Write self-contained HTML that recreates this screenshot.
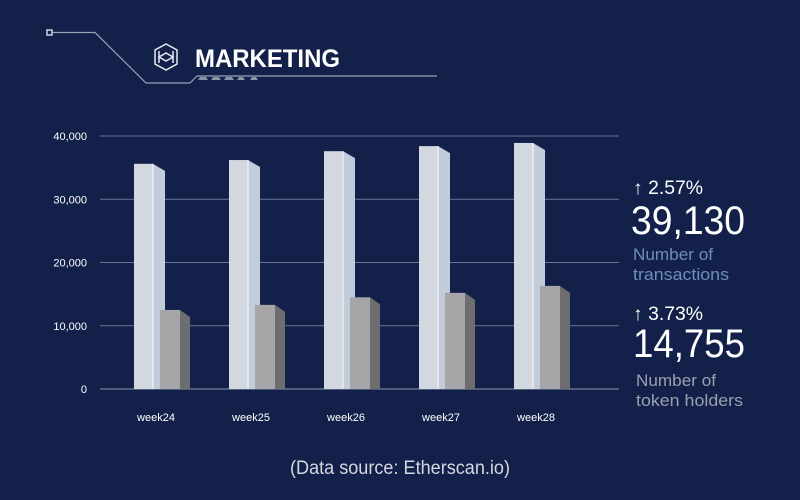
<!DOCTYPE html>
<html><head><meta charset="utf-8"><style>
html,body{margin:0;padding:0;background:#13214a;}
body{width:800px;height:495px;overflow:hidden;font-family:"Liberation Sans",sans-serif;}
</style></head><body>
<svg width="800" height="495" xmlns="http://www.w3.org/2000/svg">
<rect width="800" height="495" fill="#13214a"/>
<g fill="none" stroke="#9aa3b8" stroke-width="1.2">
<rect x="47" y="30" width="5" height="5" stroke="#d0d4dc" stroke-width="1.5"/>
<path d="M53 32.5 H95 L146 83 H190 L197 76 H437"/>
</g>
<g fill="#8a93a8">
<polygon points="198,80 208,80 206,77 200,77"/><polygon points="211,80 221,80 219,77 213,77"/><polygon points="224,80 234,80 232,77 226,77"/><polygon points="237,80 245,80 243,77 239,77"/><polygon points="250,80 258,80 256,77 252,77"/>
</g>
<g fill="none" stroke="#e6e9f0" stroke-width="1.5">
<polygon points="166,44 177,50 177,64 166,70 155,64 155,50"/>
<path d="M159 51 V63 M173 51 V63 M159 57 L166 53 L173 57 L166 61 Z"/>
</g>
<text x="195" y="67" font-size="25" font-weight="bold" fill="#ffffff" textLength="145" lengthAdjust="spacingAndGlyphs">MARKETING</text>
<g id="grid"></g>
<g id="bars"></g>
<g>
<text x="633" y="194" font-size="19" fill="#ffffff" textLength="70" lengthAdjust="spacingAndGlyphs">↑ 2.57%</text>
<text x="631" y="234" font-size="40" fill="#ffffff" textLength="114" lengthAdjust="spacingAndGlyphs">39,130</text>
<text x="633" y="260" font-size="17" fill="#6f8dbb" textLength="80" lengthAdjust="spacingAndGlyphs">Number of</text>
<text x="633" y="280" font-size="17" fill="#6f8dbb" textLength="96" lengthAdjust="spacingAndGlyphs">transactions</text>
</g>
<g>
<text x="633" y="320" font-size="19" fill="#ffffff" textLength="70" lengthAdjust="spacingAndGlyphs">↑ 3.73%</text>
<text x="633" y="357" font-size="40" fill="#ffffff" textLength="112" lengthAdjust="spacingAndGlyphs">14,755</text>
<text x="636" y="386" font-size="17" fill="#9aa0ad" textLength="80" lengthAdjust="spacingAndGlyphs">Number of</text>
<text x="636" y="406" font-size="17" fill="#9aa0ad" textLength="107" lengthAdjust="spacingAndGlyphs">token holders</text>
</g>
<text x="400" y="474" font-size="19" fill="#d4d7de" text-anchor="middle" textLength="220" lengthAdjust="spacingAndGlyphs">(Data source: Etherscan.io)</text>
</svg>
<script>
const categories = ["week24","week25","week26","week27","week28"];
const transactions = [35600,36200,37600,38400,38900];
const holders = [12500,13300,14500,15200,16300];
const yTicks = [0,10000,20000,30000,40000];
const yTickLabels = ["0","10,000","20,000","30,000","40,000"];
const NS="http://www.w3.org/2000/svg";
const y0=389, yTop=136, yMax=40000;
function yScale(v){return y0-(v/yMax)*(y0-yTop);}
function xBand(i){return 134+i*95;}
function mk(tag,attrs,parent){const e=document.createElementNS(NS,tag);for(const k in attrs)e.setAttribute(k,attrs[k]);parent.appendChild(e);return e;}
const grid=document.getElementById('grid');
yTicks.forEach((t,i)=>{
  const l=mk('line',{x1:100,x2:619,y1:yScale(t),y2:yScale(t),stroke:i===0?'#8d97ad':'#6b7591','stroke-width':1},grid);
  
  
  const tx=mk('text',{x:87,y:yScale(t)+4,'font-size':11,fill:'#ffffff','text-anchor':'end'},grid);
  tx.textContent=yTickLabels[i];
  
  
});
const bars=document.getElementById('bars');
function bar3d(x,v,w,d,front,side,name){
  const g=mk('g',{},bars);
  
  
  const yt=yScale(v);
  mk('polygon',{points:`${x+w},${yt} ${x+w+d},${yt+7} ${x+w+d},${y0} ${x+w},${y0}`,fill:side},g);
  mk('rect',{x:x,y:yt,width:w,height:y0-yt,fill:front},g);
}
categories.forEach((c,i)=>{
  const x=xBand(i);
  bar3d(x,transactions[i],19,12,'#d3d7df','#c3ccda','bar-transactions-'+c);
  mk('line',{x1:x+19,x2:x+19,y1:yScale(transactions[i]),y2:y0,stroke:'#f2f4f8','stroke-width':1.2},bars);
  bar3d(x+26,holders[i],20,10,'#a6a6a8','#6e6e70','bar-holders-'+c);
  const t=mk('text',{x:x+22,y:421,'font-size':11,fill:'#ffffff','text-anchor':'middle'},bars);
  t.textContent=c;
  
  
});
</script>
</body></html>
